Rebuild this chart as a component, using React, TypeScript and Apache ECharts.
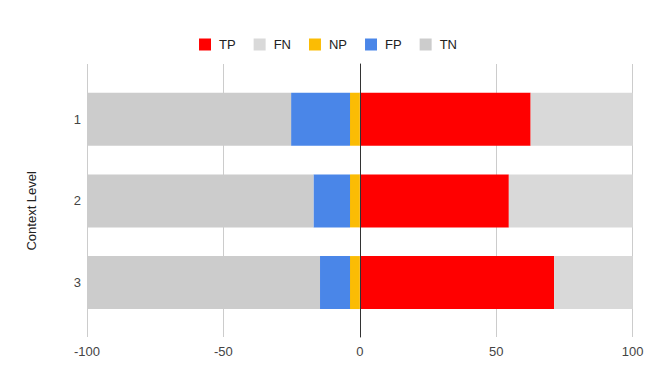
import React, { useEffect, useRef } from "react";
import * as echarts from "echarts";

const categories = ["1", "2", "3"];
const TP = [62.6, 54.6, 71.2];
const FN = [37.4, 45.4, 28.8];
const NP = [3.6, 3.6, 3.6];
const FP = [21.6, 13.4, 11.0];
const TN = [74.8, 83.0, 85.4];
const xTicks = { min: -100, max: 100, interval: 50 };

const FONT = "'Liberation Sans', Arial, sans-serif";

export default function App() {
  const ref = useRef<HTMLDivElement>(null);
  useEffect(() => {
    document.body.style.margin = "0";
    const chart = echarts.init(ref.current!, null, { renderer: "svg" });
    const neg = (a: number[]) => a.map((v) => -v);
    const mk = (name: string, data: number[], color: string) => ({
      name,
      type: "bar",
      xAxisIndex: 1,
      yAxisIndex: 1,
      stack: "s",
      barWidth: 53,
      data,
      itemStyle: { color },
      emphasis: { disabled: true },
    });
    chart.setOption({
      animation: false,
      textStyle: { fontFamily: FONT },
      legend: {
        top: 33,
        left: "center",
        icon: "rect",
        itemWidth: 12,
        itemHeight: 12,
        itemGap: 18,
        textStyle: { fontSize: 13, color: "#222", fontFamily: FONT, padding: [0, 0, 0, 3] },
        data: ["TP", "FN", "NP", "FP", "TN"],
      },
      grid: [
        { left: 87, right: 23.3, top: 64, bottom: 43 },
        { left: 87, right: 23.3, top: 78.4, height: 245 },
      ],
      xAxis: [
        {
          type: "value",
          gridIndex: 0,
          min: xTicks.min,
          max: xTicks.max,
          interval: xTicks.interval,
          axisLine: { show: false },
          axisTick: { show: false },
          splitLine: { show: true, lineStyle: { color: "#cccccc" } },
          axisLabel: { color: "#444", fontSize: 13, margin: 8, fontFamily: FONT },
        },
        {
          type: "value",
          gridIndex: 1,
          min: xTicks.min,
          max: xTicks.max,
          show: false,
        },
      ],
      yAxis: [
        {
          type: "value",
          gridIndex: 0,
          z: 10,
          axisLine: { show: true, onZero: true, lineStyle: { color: "#333" } },
          axisTick: { show: false },
          axisLabel: { show: false },
          splitLine: { show: false },
        },
        {
          type: "category",
          gridIndex: 1,
          inverse: true,
          data: categories,
          axisLine: { show: false },
          axisTick: { show: false },
          axisLabel: { color: "#444", fontSize: 13, margin: 6, fontFamily: FONT },
        },
      ],
      graphic: [
        {
          type: "text",
          x: 31.7,
          y: 210.8,
          rotation: Math.PI / 2,
          style: {
            text: "Context Level",
            fill: "#222",
            font: `13px ${FONT}`,
            align: "center",
            verticalAlign: "middle",
          },
        },
      ],
      series: [
        mk("TP", TP, "#ff0000"),
        mk("FN", FN, "#d9d9d9"),
        mk("NP", neg(NP), "#fbbc04"),
        mk("FP", neg(FP), "#4a86e8"),
        mk("TN", neg(TN), "#cccccc"),
      ],
    });
    return () => chart.dispose();
  }, []);
  return <div ref={ref} style={{ width: 656, height: 380 }} />;
}
